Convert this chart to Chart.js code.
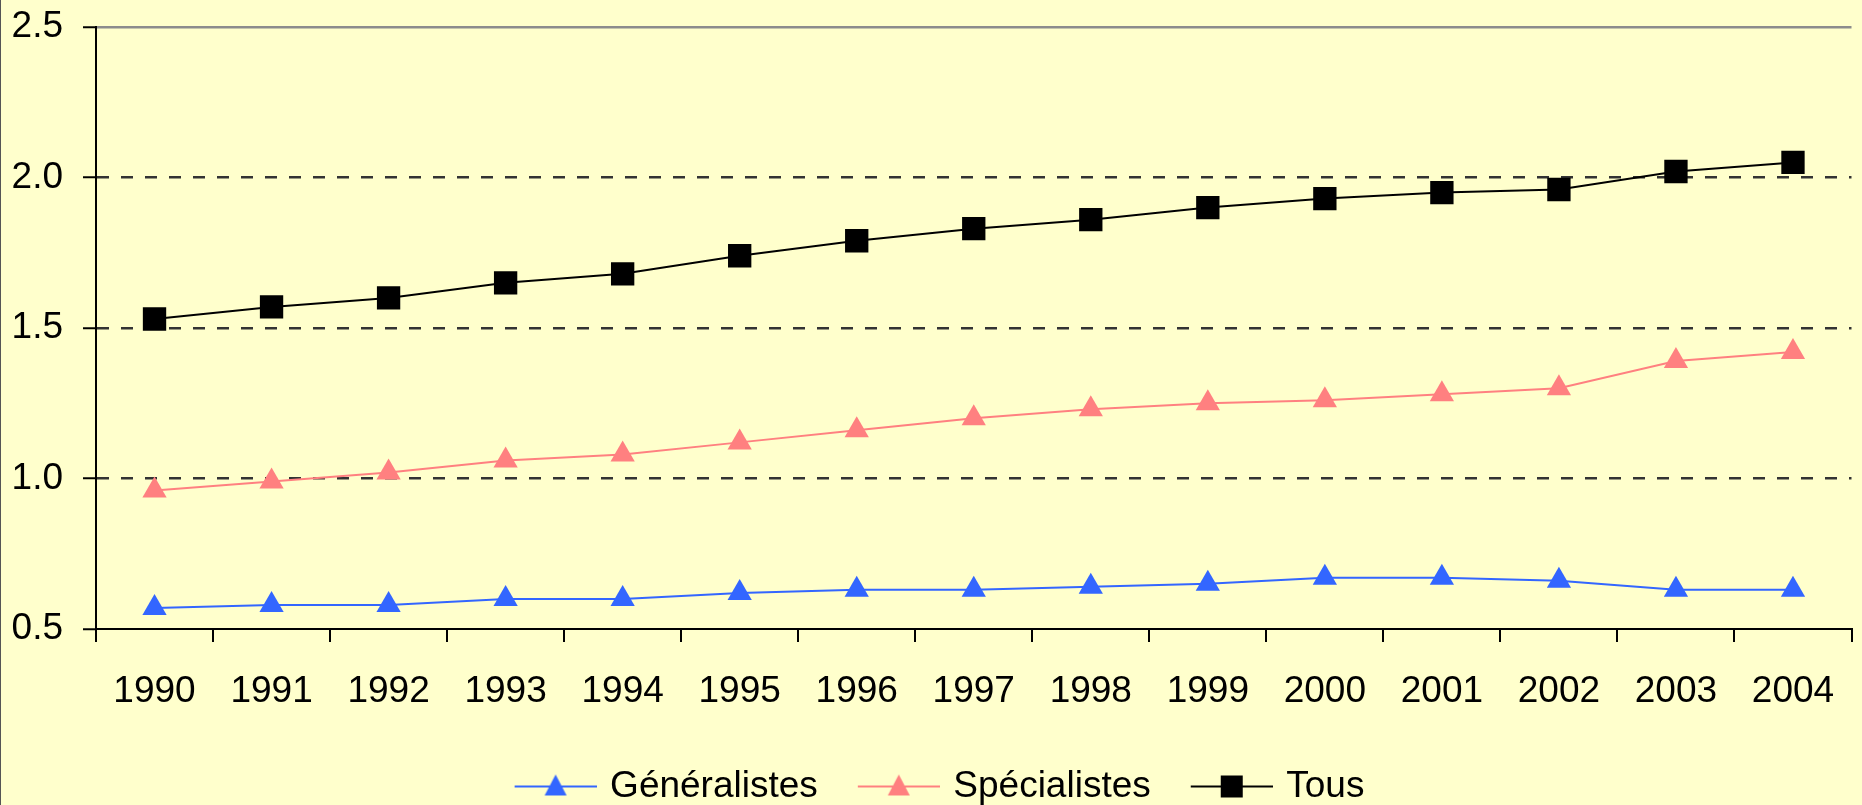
<!DOCTYPE html>
<html>
<head>
<meta charset="utf-8">
<script src="https://cdn.jsdelivr.net/npm/chart.js@4.4.1/dist/chart.umd.min.js"></script>
<style>
  html, body { margin: 0; padding: 0; overflow: hidden; background: #FFFFCC; }
  #wrap { position: relative; width: 1868px; height: 805px; }
  #wrap::before { content: ''; position: absolute; left: 0; top: 0; bottom: 0; width: 1px; background: #555; z-index: 2; }
</style>
</head>
<body>
<div id="wrap"><canvas id="chart" width="1868" height="805"></canvas></div>
<script>
const years = ['1990', '1991', '1992', '1993', '1994', '1995', '1996', '1997', '1998', '1999', '2000', '2001', '2002', '2003', '2004'];
const generalistes = [0.57, 0.58, 0.58, 0.60, 0.60, 0.62, 0.63, 0.63, 0.64, 0.65, 0.67, 0.67, 0.66, 0.63, 0.63];
const specialistes = [0.96, 0.99, 1.02, 1.06, 1.08, 1.12, 1.16, 1.20, 1.23, 1.25, 1.26, 1.28, 1.30, 1.39, 1.42];
const tous = [1.53, 1.57, 1.60, 1.65, 1.68, 1.74, 1.79, 1.83, 1.86, 1.90, 1.93, 1.95, 1.96, 2.02, 2.05];
const yMin = 0.5, yMax = 2.5, yStep = 0.5;

const BLUE = '#3366FF', PINK = '#FF8080', BLACK = '#000000';
const FONT = 'Liberation Sans, Arial, sans-serif';
const FSIZE = 37;

// legend symbol: line with marker in the middle (Excel style), transparent gap on the left
function legendSymbol(color, shape) {
    const c = document.createElement('canvas');
    c.width = 124; c.height = 30;
    const g = c.getContext('2d');
    g.strokeStyle = color; g.fillStyle = color; g.lineWidth = 2;
    g.beginPath(); g.moveTo(42, 15); g.lineTo(124, 15); g.stroke();
    const cx = 83, cy = 15;
    g.beginPath();
    if (shape === 'triangle') {
        g.moveTo(cx, cy - 12); g.lineTo(cx + 11, cy + 9); g.lineTo(cx - 11, cy + 9);
    } else {
        g.rect(cx - 11, cy - 11, 22, 22);
    }
    g.closePath(); g.fill();
    return c;
}
const symbols = [legendSymbol(BLUE, 'triangle'), legendSymbol(PINK, 'triangle'), legendSymbol(BLACK, 'rect')];

new Chart(document.getElementById('chart'), {
    type: 'line',
    data: {
        labels: years,
        datasets: [
            { label: 'Généralistes', data: generalistes, borderColor: BLUE, backgroundColor: BLUE,
              borderWidth: 2, pointStyle: 'triangle', pointRadius: 14, pointBorderWidth: 0 },
            { label: 'Spécialistes', data: specialistes, borderColor: PINK, backgroundColor: PINK,
              borderWidth: 2, pointStyle: 'triangle', pointRadius: 14, pointBorderWidth: 0 },
            { label: 'Tous', data: tous, borderColor: BLACK, backgroundColor: BLACK,
              borderWidth: 2, pointStyle: 'rect', pointRadius: 16.5, pointBorderWidth: 0 }
        ]
    },
    options: {
        responsive: false,
        animation: false,
        layout: { padding: { top: 27, left: -26, right: 0, bottom: -10 } },
        elements: { line: { tension: 0 } },
        plugins: {
            tooltip: { enabled: false },
            legend: {
                position: 'bottom',
                labels: {
                    color: '#000',
                    font: { family: FONT, size: FSIZE },
                    usePointStyle: true,
                    pointStyleWidth: 114,
                    padding: 3,
                    generateLabels: function (chart) {
                        const items = Chart.defaults.plugins.legend.labels.generateLabels(chart);
                        items.forEach((it, i) => { it.pointStyle = symbols[i]; });
                        return items;
                    }
                }
            }
        },
        scales: {
            x: {
                offset: true,
                afterFit: s => { s.height = 136; },
                grid: { offset: true, drawOnChartArea: false, drawTicks: true, tickLength: 13, tickColor: '#000', lineWidth: 2 },
                border: { display: true, color: '#000', width: 2 },
                ticks: { color: '#000', font: { family: FONT, size: FSIZE }, padding: 28, maxRotation: 0, autoSkip: false }
            },
            y: {
                min: yMin,
                max: yMax,
                afterFit: s => { s.width = 122; s.paddingTop = 0; s.paddingBottom = 0; },
                grid: {
                    color: c => c.tick.value === yMax ? '#8c8c8c' : (c.tick.value === yMin ? 'rgba(0,0,0,0)' : '#333'),
                    lineWidth: c => c.tick.value === yMax ? 2.5 : 2.5,
                    drawTicks: true,
                    tickLength: 13,
                    tickWidth: 2,
                    tickColor: '#000'
                },
                border: {
                    display: true, color: '#000', width: 2,
                    dash: c => (c.tick && c.tick.value !== yMax) ? [12, 12] : []
                },
                ticks: {
                    stepSize: yStep,
                    color: '#000',
                    padding: 20,
                    font: { family: FONT, size: FSIZE },
                    callback: v => v.toFixed(1)
                }
            }
        }
    }
});
</script>
</body>
</html>
